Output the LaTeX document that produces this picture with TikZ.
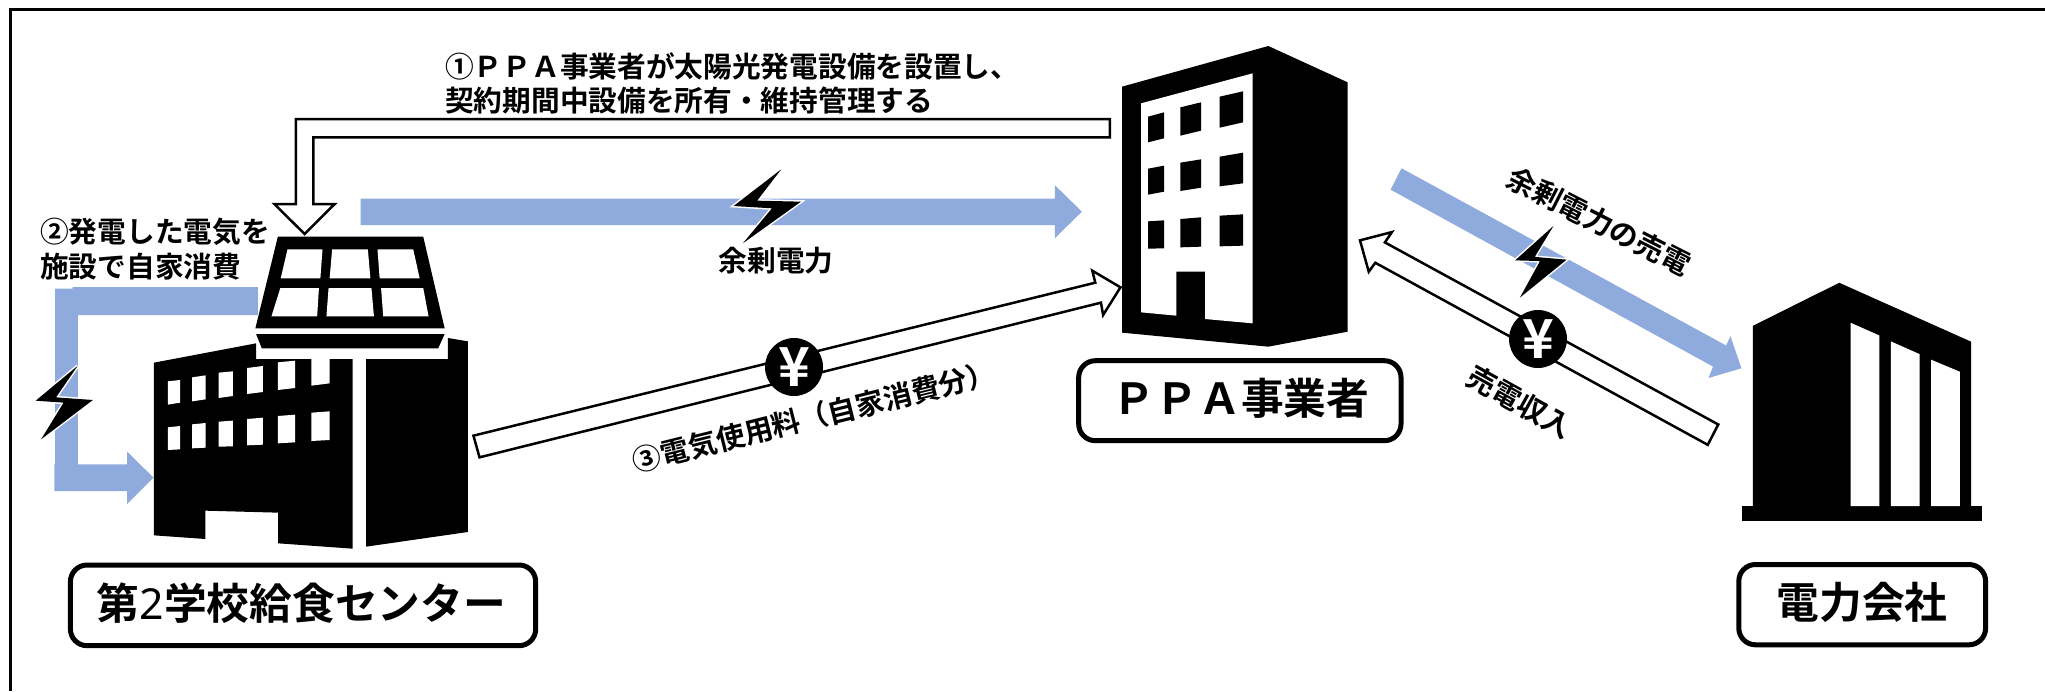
\documentclass[tikz,border=0pt]{standalone}
\usepackage{fontspec}
\setmainfont{Noto Sans CJK JP}[BoldFont={Noto Sans CJK JP Bold}]
\newfontfamily\latinbold{Noto Sans}
\definecolor{flow}{HTML}{8FAADC}
\tikzset{
  x=0.03cm,y=-0.03cm,
  blk/.style={fill=black,draw=none},
  wht/.style={fill=white,draw=none},
  flowarrow/.style={fill=flow,draw=none},
  hollow/.style={fill=white,draw=black,line width=0.075cm,miter limit=10},
  bolt/.style={fill=black,preaction={draw=white,line width=0.09cm,miter limit=4}},
  label/.style={font=\fontsize{24.5}{24.5}\selectfont\bfseries,inner sep=0pt,anchor=center},
  tag/.style={draw=black,fill=white,rounded corners=0.5cm,line width=0.15cm,inner sep=0pt},
  tagtext/.style={font=\fontsize{36.5}{36.5}\selectfont\bfseries,inner sep=0pt,anchor=center},
  yen/.style={circle,fill=black,minimum size=1.74cm,inner sep=0pt,text=white,font=\fontsize{46}{46}\selectfont\bfseries},
}
\begin{document}
\begin{tikzpicture}
\useasboundingbox (0,0) rectangle (2045,691);
\fill[white] (0,0) rectangle (2045,691);
\draw[line width=0.1cm] (10.5,691) -- (10.5,9.5) -- (2045,9.5);

% Central horizontal surplus arrow and L-shaped hollow arrow
\begin{scope}[shift={(270,30)},xscale=0.54855,yscale=0.33333]
\fill[flowarrow] (165,506)--(1431,506)--(1431,466)--(1480,545)--(1431,624)--(1431,585)--(165,585)--cycle;
\draw[hollow] (1531,267)--(47,267)--(47,522)--(8,522)--(63,612)--(118,522)--(79,522)--(79,322)--(1531,322)--cycle;
\path[bolt] (932,418)--(845,528)--(915,535)--(862,640)--(968,515)--(888,512)--cycle;
\end{scope}

% School: self consumption arrow, building, panel
\begin{scope}[shift={(0,180)},xscale=0.35714,yscale=0.33333]
\fill[flowarrow] (722,321)--(722,405)--(218,405)--(218,853)--(356,853)--(356,815)--(430,893)--(356,972)--(356,933)--(152,933)--(152,853)--(154,853)--(154,326)--(203,326)--(203,321)--cycle;
\path[bolt] (218,557)--(100,662)--(178,668)--(115,778)--(260,660)--(157,652)--cycle;
% building
\fill[blk] (431,548)--(717,490)--(717,537)--(987,537)--(987,1106)--(779,1090)--(779,998)--(575,992)--(575,1077)--(431,1066)--cycle;
\fill[blk] (1025,537)--(1254,537)--(1254,474)--(1310,484)--(1310,1056)--(1025,1100)--cycle;
\foreach \a/\b/\c/\d/\e/\f in {
 470/504/604/600/674/668, 538/576/592/586/664/658, 612/652/578/574/654/648,
 692/736/564/558/642/636, 778/826/547/542/630/624, 872/923/537/537/617/610,
 470/504/742/738/810/808, 538/576/733/729/805/803, 612/652/725/722/800/799,
 692/736/717/713/796/794, 778/826/708/704/790/787, 872/923/698/694/783/780}
 \fill[wht] (\a,\c)--(\b,\d)--(\b,\f)--(\a,\e)--cycle;
% panel
\fill[blk] (778,170)--(1185,170)--(1245,445)--(715,445)--cycle;
\fill[blk] (717,462)--(1245,462)--(1227,505)--(733,505)--cycle;
\fill[wht] (805,208)--(903,208)--(897,295)--(786,295)--cycle;
\fill[wht] (930,208)--(1030,208)--(1037,295)--(923,295)--cycle;
\fill[wht] (1057,208)--(1157,208)--(1175,295)--(1063,295)--cycle;
\fill[wht] (785,324)--(893,324)--(888,409)--(760,409)--cycle;
\fill[wht] (920,324)--(1040,324)--(1047,409)--(914,409)--cycle;
\fill[wht] (1067,324)--(1185,324)--(1200,409)--(1073,409)--cycle;
\end{scope}

% PPA building
\begin{scope}[shift={(1060,20)},xscale=0.33333,yscale=0.33333]
\fill[blk] (186,200)--(625,78)--(863,187)--(863,935)--(625,980)--(186,938)--cycle;
\fill[wht] (243,250)--(578,160)--(578,910)--(435,897)--(435,755)--(349,755)--(349,887)--(243,877)--cycle;
\foreach \a/\b/\c/\d/\e/\f in {
 264/312/290/277/367/355, 361/423/262/247/347/332, 479/549/230/214/323/307,
 264/312/446/437/524/515, 361/423/428/418/513/503, 479/549/410/398/499/490,
 264/312/604/601/686/685, 361/423/597/592/682/680, 479/549/587/583/679/677}
 \fill[blk] (\a,\c)--(\b,\d)--(\b,\f)--(\a,\e)--cycle;
\end{scope}

% Arrow 3: payment for electricity
\begin{scope}[shift={(460,260)},xscale=0.43365,yscale=0.33333]
\draw[hollow] (31,527)--(1465,68)--(1458,32)--(1523,82)--(1483,165)--(1478,128)--(45,592)--cycle;
\end{scope}

% Power company and right-hand arrows
\begin{scope}[shift={(1360,150)},xscale=0.43687,yscale=0.34483]
\fill[flowarrow] (95,53)--(838,567)--(848,540)--(873,633)--(798,661)--(808,628)--(70,115)--cycle;
\draw[hollow] (820,796)--(57,268)--(73,238)--(0,262)--(20,353)--(35,327)--(796,855)--cycle;
\path[bolt] (443,220)--(355,320)--(412,322)--(366,428)--(473,318)--(400,310)--cycle;
\fill[blk] (874,1033) rectangle (1424,1077);
\fill[blk] (899,510)--(1097,385)--(1399,556)--(1399,1033)--(899,1033)--cycle;
\fill[wht] (1123,501)--(1189,538)--(1189,1033)--(1123,1033)--cycle;
\fill[wht] (1215,555)--(1281,592)--(1281,1033)--(1215,1033)--cycle;
\fill[wht] (1307,608)--(1373,643)--(1373,1033)--(1307,1033)--cycle;
\end{scope}

% Yen marks
\node[yen] (yenA) at (794,367) {¥};
\node[yen] (yenB) at (1538,339) {¥};

% Name tags
\draw[tag] (70.4,565) rectangle (535.7,645.7);
\node[tagtext] (school) at (301.5,603) {第{\latinbold\mdseries 2}学校給食センター};
\draw[tag] (1078.7,360.7) rectangle (1401,440.7);
\node[tagtext] (ppa) at (1241,398) {ＰＰＡ事業者};
\draw[tag] (1738.8,564.5) rectangle (1985.6,644.8);
\node[tagtext] (power) at (1862,602) {電力会社};

% Labels
\node[label,anchor=west] (t1a) at (445,66) {①ＰＰＡ事業者が太陽光発電設備を設置し、};
\node[label,anchor=west] (t1b) at (445,101) {契約期間中設備を所有・維持管理する};
\node[label,anchor=west] (t2a) at (40,232) {②発電した電気を};
\node[label,anchor=west] (t2b) at (40,267) {施設で自家消費};
\node[label] (t3) at (776,261) {余剰電力};
\node[label,rotate=14] (t4) at (814,417) {③電気使用料（自家消費分）};
\node[label,rotate=-27] (t5) at (1599,221) {余剰電力の売電};
\node[label,rotate=-29] (t6) at (1520,402) {売電収入};
\end{tikzpicture}
\end{document}
